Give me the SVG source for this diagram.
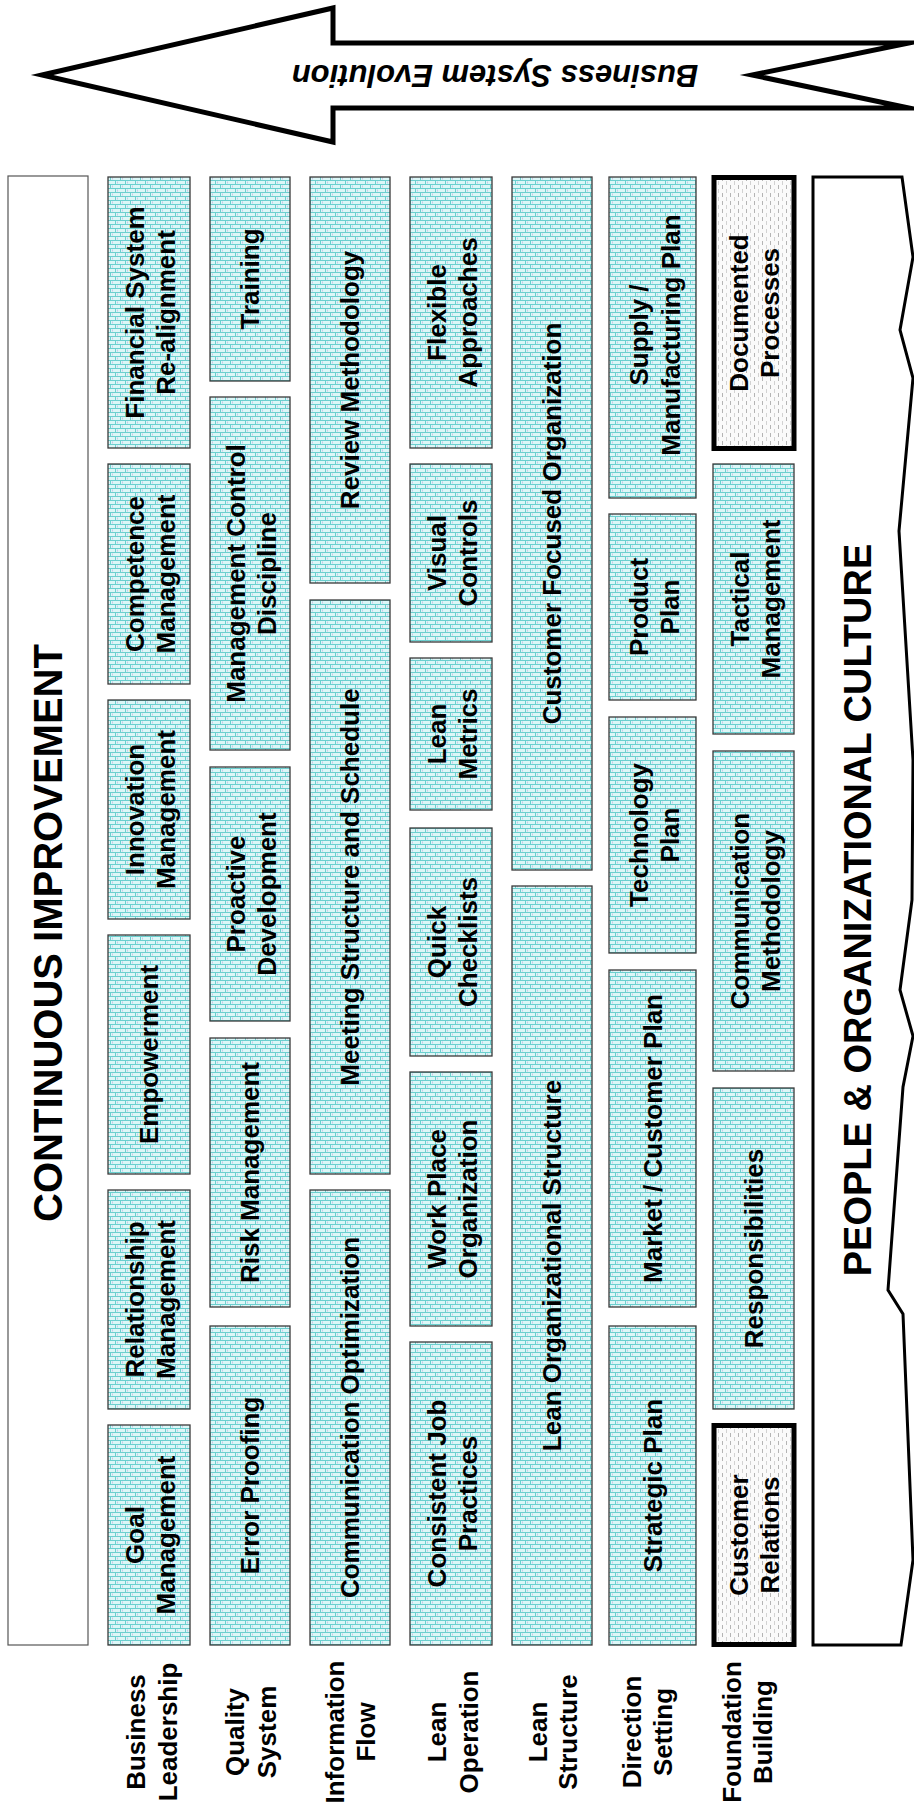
<svg xmlns="http://www.w3.org/2000/svg" width="914" height="1818" viewBox="0 0 914 1818">
<style>
.box{fill:url(#weave);stroke:#3a3a3a;stroke-width:1.3}
.thick{fill:url(#dots);stroke:#000;stroke-width:5}
.lbl{font-family:"Liberation Sans",Arial,sans-serif;font-weight:bold;font-size:26px;text-anchor:middle;fill:#000}
.big{font-family:"Liberation Sans",Arial,sans-serif;font-weight:bold;font-size:38px;text-anchor:middle;fill:#000}
.arrowtxt{font-family:"Liberation Sans",Arial,sans-serif;font-weight:bold;font-style:italic;font-size:31px;text-anchor:middle;fill:#000}
</style>
<defs>
<pattern id="weave" width="10" height="8" patternUnits="userSpaceOnUse">
<rect width="10" height="8" fill="#dcf7f7"/>
<path d="M0 0.5H10M0 4.5H10" stroke="#6ccfcf" stroke-width="1"/>
<path d="M0.5 0V4.5M5.5 4.5V8" stroke="#6ccfcf" stroke-width="1"/>
<path d="M2.5 1.5V3.5M7.5 5.5V7.5" stroke="#c8c6e6" stroke-width="1"/>
</pattern>
<pattern id="dots" width="8" height="8" patternUnits="userSpaceOnUse">
<rect width="8" height="8" fill="#fafafa"/>
<path d="M2.5 1V5" stroke="#b4b4b4" stroke-width="1"/>
<path d="M6.5 5V8M6.5 0V1" stroke="#d2d2d2" stroke-width="1"/>
</pattern>
</defs>
<rect width="914" height="1818" fill="#fff"/>

<g id="arrow">
<polygon points="42,75 333,8 333,43 909,43 752,75 909,108 333,108 333,142" fill="#fff" stroke="#000" stroke-width="5" stroke-miterlimit="10"/>
<text class="arrowtxt" x="495" y="87" transform="rotate(180 495 76)">Business System Evolution</text>
</g>

<g id="continuous-improvement">
<rect x="8" y="176" width="80" height="1469" fill="#fff" stroke="#555" stroke-width="1.2"/>
<text class="big" style="font-size:40px" transform="translate(62,933) rotate(-90)" x="0" y="0">CONTINUOUS IMPROVEMENT</text>
</g>

<g id="people-culture">
<polygon points="813,177 902,177 913,257 900,330 913,378 899,531 913,760 912,900 900,990 913,1036 903,1087 888,1290 903,1314 913,1560 901,1645 813,1645" fill="#fff" stroke="#000" stroke-width="3"/>
<text class="big" transform="translate(871,910) rotate(-90)" x="0" y="0">PEOPLE &amp; ORGANIZATIONAL CULTURE</text>
</g>

<!-- Column 1: Business Leadership -->
<g id="financial-system"><rect class="box" x="108" y="177" width="82" height="271"/><text class="lbl" transform="translate(149,312.5) rotate(-90)"><tspan x="0" y="-5">Financial System</tspan><tspan x="0" y="26">Re-alignment</tspan></text></g>
<g id="competence-management"><rect class="box" x="108" y="464" width="82" height="220"/><text class="lbl" transform="translate(149,574) rotate(-90)"><tspan x="0" y="-5">Competence</tspan><tspan x="0" y="26">Management</tspan></text></g>
<g id="innovation-management"><rect class="box" x="108" y="700" width="82" height="219"/><text class="lbl" transform="translate(149,809.5) rotate(-90)"><tspan x="0" y="-5">Innovation</tspan><tspan x="0" y="26">Management</tspan></text></g>
<g id="empowerment"><rect class="box" x="108" y="935" width="82" height="239"/><text class="lbl" transform="translate(149,1054.5) rotate(-90)" x="0" y="9">Empowerment</text></g>
<g id="relationship-management"><rect class="box" x="108" y="1190" width="82" height="219"/><text class="lbl" transform="translate(149,1299.5) rotate(-90)"><tspan x="0" y="-5">Relationship</tspan><tspan x="0" y="26">Management</tspan></text></g>
<g id="goal-management"><rect class="box" x="108" y="1425" width="82" height="220"/><text class="lbl" transform="translate(149,1535) rotate(-90)"><tspan x="0" y="-5">Goal</tspan><tspan x="0" y="26">Management</tspan></text></g>

<!-- Column 2: Quality System -->
<g id="training"><rect class="box" x="210" y="177" width="80" height="204"/><text class="lbl" transform="translate(250,279) rotate(-90)" x="0" y="9">Training</text></g>
<g id="management-control"><rect class="box" x="210" y="397" width="80" height="353"/><text class="lbl" transform="translate(250,573.5) rotate(-90)"><tspan x="0" y="-5">Management Control</tspan><tspan x="0" y="26">Discipline</tspan></text></g>
<g id="proactive-development"><rect class="box" x="210" y="767" width="80" height="254"/><text class="lbl" transform="translate(250,894) rotate(-90)"><tspan x="0" y="-5">Proactive</tspan><tspan x="0" y="26">Development</tspan></text></g>
<g id="risk-management"><rect class="box" x="210" y="1038" width="80" height="269"/><text class="lbl" transform="translate(250,1172.5) rotate(-90)" x="0" y="9">Risk Management</text></g>
<g id="error-proofing"><rect class="box" x="210" y="1326" width="80" height="319"/><text class="lbl" transform="translate(250,1485.5) rotate(-90)" x="0" y="9">Error Proofing</text></g>

<!-- Column 3: Information Flow -->
<g id="review-methodology"><rect class="box" x="310" y="177" width="80" height="406"/><text class="lbl" transform="translate(350,380) rotate(-90)" x="0" y="9">Review Methodology</text></g>
<g id="meeting-structure"><rect class="box" x="310" y="600" width="80" height="574"/><text class="lbl" transform="translate(350,887) rotate(-90)" x="0" y="9">Meeting Structure and Schedule</text></g>
<g id="communication-optimization"><rect class="box" x="310" y="1190" width="80" height="455"/><text class="lbl" transform="translate(350,1417.5) rotate(-90)" x="0" y="9">Communication Optimization</text></g>

<!-- Column 4: Lean Operation -->
<g id="flexible-approaches"><rect class="box" x="410" y="177" width="82" height="271"/><text class="lbl" transform="translate(451,312.5) rotate(-90)"><tspan x="0" y="-5">Flexible</tspan><tspan x="0" y="26">Approaches</tspan></text></g>
<g id="visual-controls"><rect class="box" x="410" y="464" width="82" height="178"/><text class="lbl" transform="translate(451,553) rotate(-90)"><tspan x="0" y="-5">Visual</tspan><tspan x="0" y="26">Controls</tspan></text></g>
<g id="lean-metrics"><rect class="box" x="410" y="658" width="82" height="152"/><text class="lbl" transform="translate(451,734) rotate(-90)"><tspan x="0" y="-5">Lean</tspan><tspan x="0" y="26">Metrics</tspan></text></g>
<g id="quick-checklists"><rect class="box" x="410" y="828" width="82" height="228"/><text class="lbl" transform="translate(451,942) rotate(-90)"><tspan x="0" y="-5">Quick</tspan><tspan x="0" y="26">Checklists</tspan></text></g>
<g id="work-place-organization"><rect class="box" x="410" y="1072" width="82" height="254"/><text class="lbl" transform="translate(451,1199) rotate(-90)"><tspan x="0" y="-5">Work Place</tspan><tspan x="0" y="26">Organization</tspan></text></g>
<g id="consistent-job-practices"><rect class="box" x="410" y="1342" width="82" height="303"/><text class="lbl" transform="translate(451,1493.5) rotate(-90)"><tspan x="0" y="-5">Consistent Job</tspan><tspan x="0" y="26">Practices</tspan></text></g>

<!-- Column 5: Lean Structure -->
<g id="customer-focused-organization"><rect class="box" x="512" y="177" width="80" height="693"/><text class="lbl" transform="translate(552,523.5) rotate(-90)" x="0" y="9">Customer Focused Organization</text></g>
<g id="lean-organizational-structure"><rect class="box" x="512" y="886" width="80" height="759"/><text class="lbl" transform="translate(552,1265.5) rotate(-90)" x="0" y="9">Lean Organizational Structure</text></g>

<!-- Column 6: Direction Setting -->
<g id="supply-manufacturing-plan"><rect class="box" x="609" y="177" width="87" height="321"/><text class="lbl" transform="translate(652.5,335) rotate(-90)"><tspan x="0" y="-5">Supply /</tspan><tspan x="0" y="27">Manufacturing Plan</tspan></text></g>
<g id="product-plan"><rect class="box" x="609" y="514" width="87" height="186"/><text class="lbl" transform="translate(652.5,607) rotate(-90)"><tspan x="0" y="-5">Product</tspan><tspan x="0" y="26">Plan</tspan></text></g>
<g id="technology-plan"><rect class="box" x="609" y="717" width="87" height="236"/><text class="lbl" transform="translate(652.5,835) rotate(-90)"><tspan x="0" y="-5">Technology</tspan><tspan x="0" y="26">Plan</tspan></text></g>
<g id="market-customer-plan"><rect class="box" x="609" y="970" width="87" height="337"/><text class="lbl" transform="translate(652.5,1138.5) rotate(-90)" x="0" y="9">Market / Customer Plan</text></g>
<g id="strategic-plan"><rect class="box" x="609" y="1326" width="87" height="319"/><text class="lbl" transform="translate(652.5,1485.5) rotate(-90)" x="0" y="9">Strategic Plan</text></g>

<!-- Column 7: Foundation Building -->
<g id="documented-processes"><rect class="thick" x="714" y="177.5" width="80" height="271"/><text class="lbl" transform="translate(753.5,313) rotate(-90)"><tspan x="0" y="-6">Documented</tspan><tspan x="0" y="25">Processes</tspan></text></g>
<g id="tactical-management"><rect class="box" x="713" y="464" width="81" height="270"/><text class="lbl" transform="translate(753.5,599) rotate(-90)"><tspan x="0" y="-5">Tactical</tspan><tspan x="0" y="26">Management</tspan></text></g>
<g id="communication-methodology"><rect class="box" x="713" y="751" width="81" height="320"/><text class="lbl" transform="translate(753.5,911) rotate(-90)"><tspan x="0" y="-5">Communication</tspan><tspan x="0" y="26">Methodology</tspan></text></g>
<g id="responsibilities"><rect class="box" x="713" y="1088" width="81" height="321"/><text class="lbl" transform="translate(753.5,1248.5) rotate(-90)" x="0" y="9">Responsibilities</text></g>
<g id="customer-relations"><rect class="thick" x="714" y="1425.5" width="80" height="219"/><text class="lbl" transform="translate(753.5,1535) rotate(-90)"><tspan x="0" y="-6">Customer</tspan><tspan x="0" y="25">Relations</tspan></text></g>

<!-- Row labels -->
<g id="row-labels">
<text class="lbl" transform="translate(0,1732) rotate(-90)"><tspan x="0" y="145">Business</tspan><tspan x="0" y="177">Leadership</tspan></text>
<text class="lbl" transform="translate(0,1732) rotate(-90)"><tspan x="0" y="244">Quality</tspan><tspan x="0" y="276">System</tspan></text>
<text class="lbl" transform="translate(0,1732) rotate(-90)"><tspan x="0" y="344">Information</tspan><tspan x="0" y="375">Flow</tspan></text>
<text class="lbl" transform="translate(0,1732) rotate(-90)"><tspan x="0" y="446">Lean</tspan><tspan x="0" y="478">Operation</tspan></text>
<text class="lbl" transform="translate(0,1732) rotate(-90)"><tspan x="0" y="547">Lean</tspan><tspan x="0" y="577">Structure</tspan></text>
<text class="lbl" transform="translate(0,1732) rotate(-90)"><tspan x="0" y="641">Direction</tspan><tspan x="0" y="672">Setting</tspan></text>
<text class="lbl" transform="translate(0,1732) rotate(-90)"><tspan x="0" y="741">Foundation</tspan><tspan x="0" y="772">Building</tspan></text>
</g>
</svg>
